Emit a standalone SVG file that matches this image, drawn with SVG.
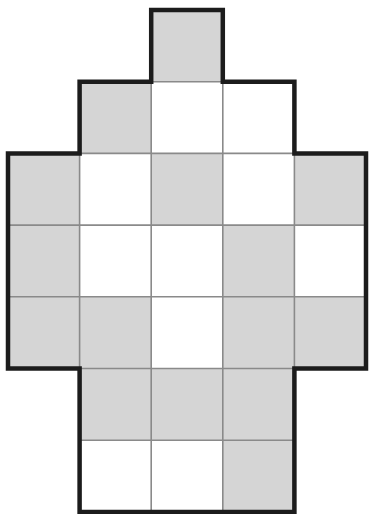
<svg xmlns="http://www.w3.org/2000/svg" width="370" height="514" viewBox="0 0 370 514">
<style>
.g{fill:#d5d5d5}
.w{fill:#ffffff}
.grid{stroke:#8a8a8a;stroke-width:1.6;fill:none}
.outline{stroke:#1c1c1c;stroke-width:4.5;fill:none;stroke-linejoin:miter}
</style>
<rect width="370" height="514" fill="#ffffff"/>
<g id="cells">
<rect class="g" x="151.2" y="10" width="71.6" height="71.7"/>
<rect class="g" x="79.6" y="81.7" width="71.6" height="71.7"/>
<rect class="w" x="151.2" y="81.7" width="71.6" height="71.7"/>
<rect class="w" x="222.8" y="81.7" width="71.6" height="71.7"/>
<rect class="g" x="8" y="153.4" width="71.6" height="71.7"/>
<rect class="w" x="79.6" y="153.4" width="71.6" height="71.7"/>
<rect class="g" x="151.2" y="153.4" width="71.6" height="71.7"/>
<rect class="w" x="222.8" y="153.4" width="71.6" height="71.7"/>
<rect class="g" x="294.4" y="153.4" width="71.6" height="71.7"/>
<rect class="g" x="8" y="225.1" width="71.6" height="71.7"/>
<rect class="w" x="79.6" y="225.1" width="71.6" height="71.7"/>
<rect class="w" x="151.2" y="225.1" width="71.6" height="71.7"/>
<rect class="g" x="222.8" y="225.1" width="71.6" height="71.7"/>
<rect class="w" x="294.4" y="225.1" width="71.6" height="71.7"/>
<rect class="g" x="8" y="296.8" width="71.6" height="71.7"/>
<rect class="g" x="79.6" y="296.8" width="71.6" height="71.7"/>
<rect class="w" x="151.2" y="296.8" width="71.6" height="71.7"/>
<rect class="g" x="222.8" y="296.8" width="71.6" height="71.7"/>
<rect class="g" x="294.4" y="296.8" width="71.6" height="71.7"/>
<rect class="g" x="79.6" y="368.5" width="71.6" height="71.7"/>
<rect class="g" x="151.2" y="368.5" width="71.6" height="71.7"/>
<rect class="g" x="222.8" y="368.5" width="71.6" height="71.7"/>
<rect class="w" x="79.6" y="440.2" width="71.6" height="71.7"/>
<rect class="w" x="151.2" y="440.2" width="71.6" height="71.7"/>
<rect class="g" x="222.8" y="440.2" width="71.6" height="71.7"/>
</g>
<g id="gridlines" class="grid">
<path d="M151.2 81.7H222.8M79.6 153.4H294.4M8 225.1H366M8 296.8H366M79.6 368.5H294.4M79.6 440.2H294.4"/>
<path d="M151.2 81.7V511.9M222.8 81.7V511.9M79.6 153.4V368.5M294.4 153.4V368.5"/>
</g>
<g id="outline">
<path class="outline" d="M151.2 10H222.8V81.7H294.4V153.4H366V368.5H294.4V511.9H79.6V368.5H8V153.4H79.6V81.7H151.2Z"/>
</g>
</svg>
